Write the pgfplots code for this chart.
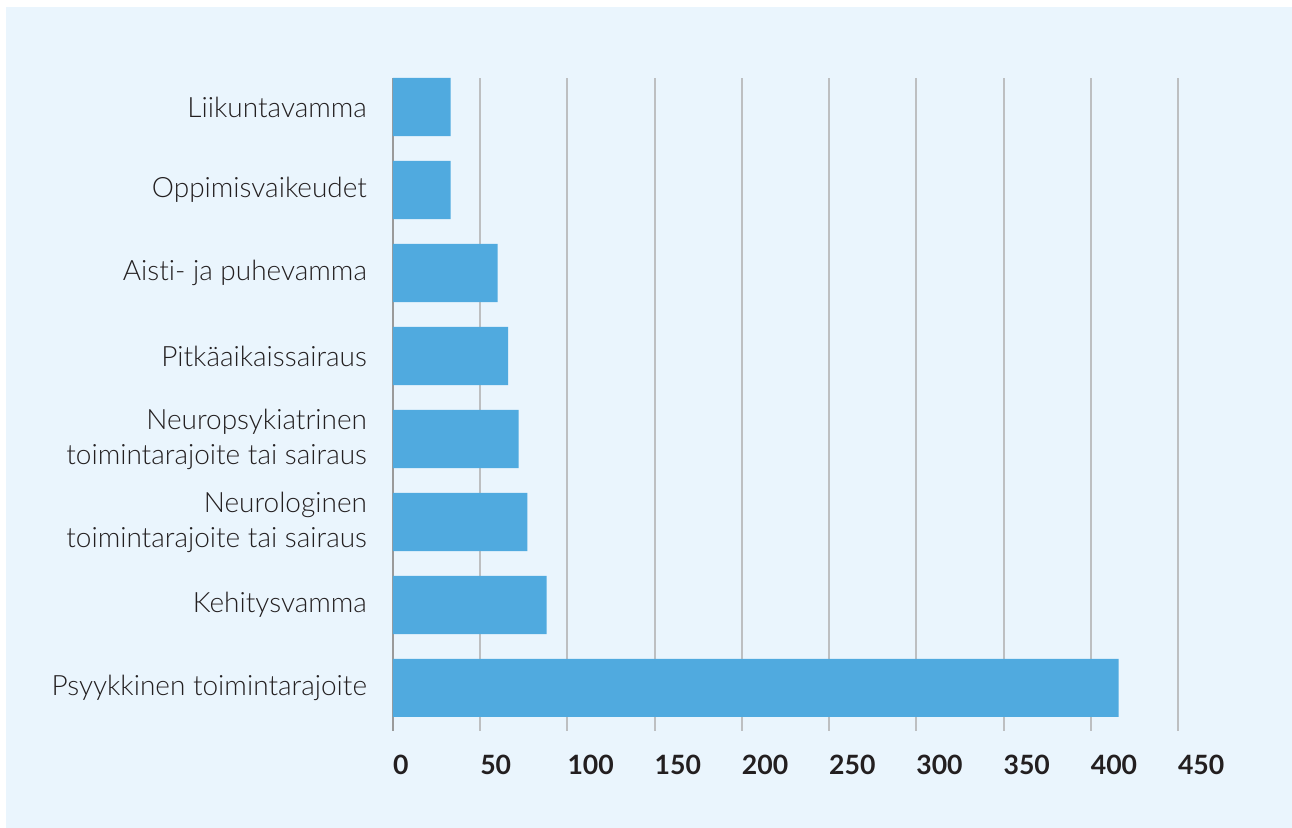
\documentclass[border=0pt]{standalone}
\usepackage{pgfplots}
\pgfplotsset{compat=1.18}
\usepackage{fontspec}
\setmainfont{Lato}[UprightFont=* Light, BoldFont=* Bold, Ligatures={NoCommon}]
\definecolor{bgblue}{HTML}{EAF5FD}
\definecolor{barblue}{HTML}{50AADF}
\definecolor{txt}{HTML}{231F20}
\definecolor{gridgray}{HTML}{BDBFC1}
\definecolor{axgray}{HTML}{9A9A9A}
\begin{document}
\begin{tikzpicture}
\fill[white] (0,0) rectangle (646pt,414pt);
\fill[bgblue] (3pt,0) rectangle (646pt,410.5pt);
\begin{axis}[
  at={(196.5pt,55.5pt)}, anchor=south west,
  scale only axis, width=392.5pt, height=319.5pt,
  xbar, bar width=0.7, bar shift=0pt,
  xmin=0, xmax=450, ymin=0.65, ymax=8.35,
  xtick={0,50,...,450},
  ytick={1,...,8},
  yticklabels={{Psyykkinen toimintarajoite},{Kehitysvamma},{Neurologinen\\toimintarajoite tai sairaus},{Neuropsykiatrinen\\toimintarajoite tai sairaus},{Pitkäaikaissairaus},{Aisti- ja puhevamma},{Oppimisvaikeudet},{Liikuntavamma}},
  axis x line*=bottom, axis y line*=left,
  x axis line style={draw=none},
  y axis line style={draw=axgray, line width=1pt, shorten <=-7pt, -},
  xmajorgrids, grid style={draw=gridgray, line width=1pt},
  tick align=outside,
  xtick style={draw=gridgray, line width=1pt},
  ytick style={draw=none},
  x tick label style={font=\bfseries\fontsize{13.3}{15}\selectfont, text=txt, anchor=north west, xshift=-3.5pt, yshift=-8.5pt},
  y tick label style={font=\fontsize{14}{17.5}\selectfont, text=txt, align=right, xshift=-2.5pt},
  /pgf/number format/assume math mode=true,
  major tick length=7pt,
  axis background/.style={fill=none},
]
\addplot[fill=barblue, draw=none] coordinates {
(416,1) (88,2) (77,3) (72,4) (66,5) (60,6) (33,7) (33,8)};
\end{axis}
\end{tikzpicture}
\end{document}
